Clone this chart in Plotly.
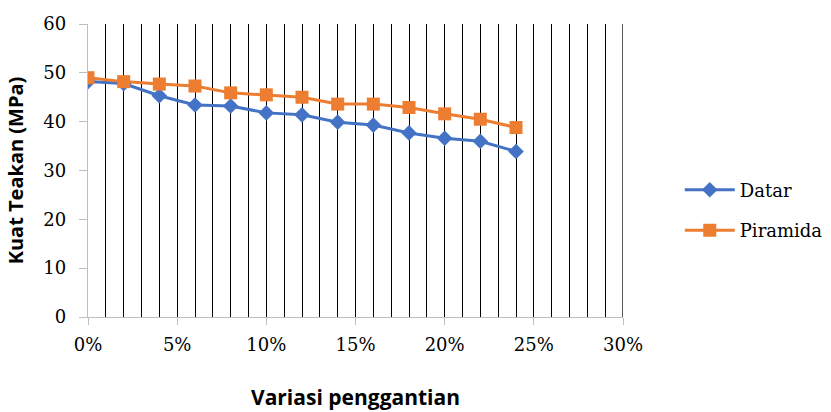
import plotly.graph_objects as go

# Replacement variation (fraction) and compressive strength (MPa)
variasi = [0.00, 0.02, 0.04, 0.06, 0.08, 0.10, 0.12, 0.14, 0.16, 0.18, 0.20, 0.22, 0.24]
datar = [48.2, 47.8, 45.3, 43.4, 43.2, 41.8, 41.4, 39.9, 39.3, 37.7, 36.6, 36.0, 33.9]
piramida = [49.0, 48.2, 47.7, 47.3, 45.9, 45.5, 45.0, 43.6, 43.6, 42.9, 41.6, 40.5, 38.8]

x_ticks = [0.00, 0.05, 0.10, 0.15, 0.20, 0.25, 0.30]
x_tick_labels = ["0%", "5%", "10%", "15%", "20%", "25%", "30%"]
y_ticks = [0, 10, 20, 30, 40, 50, 60]

BLUE = "#4472C4"
ORANGE = "#ED7D31"
SERIF = "DejaVu Serif"
SANS = "Open Sans"

fig = go.Figure()
fig.add_trace(go.Scatter(
    x=variasi, y=datar, name="Datar", mode="lines+markers",
    line=dict(color=BLUE, width=3),
    marker=dict(symbol="diamond", size=12, color=BLUE),
    legendgroup="a",
))
fig.add_trace(go.Scatter(
    x=variasi, y=piramida, name="Piramida", mode="lines+markers",
    line=dict(color=ORANGE, width=3),
    marker=dict(symbol="square", size=13, color=ORANGE),
    legendgroup="b",
))

# closing gridline at the right end of the x range
fig.add_shape(type="line", xref="x", yref="paper",
              x0=x_ticks[-1], x1=x_ticks[-1], y0=0, y1=1,
              line=dict(color="black", width=1.3), layer="below")

fig.update_layout(
    width=831, height=412,
    margin=dict(l=88, r=208, t=24, b=95),
    paper_bgcolor="white", plot_bgcolor="white",
    showlegend=True,
    legend=dict(
        xref="container", yref="container",
        x=0.818, y=0.49, xanchor="left", yanchor="middle",
        font=dict(family=SERIF, size=18, color="black"),
        tracegroupgap=14, itemwidth=50,
        bgcolor="rgba(0,0,0,0)",
    ),
    xaxis=dict(
        range=[0, 0.30], automargin=False,
        tickvals=x_ticks, ticktext=x_tick_labels,
        showgrid=True, gridcolor="black", gridwidth=1.3,
        minor=dict(dtick=0.01, tick0=0, showgrid=True, gridcolor="black", gridwidth=1.3),
        showline=True, linecolor="#BFBFBF", linewidth=1.3,
        ticks="outside", ticklen=7, tickcolor="#BFBFBF",
        ticklabelstandoff=4,
        zeroline=False,
        tickfont=dict(family=SERIF, size=18, color="black"),
        title=dict(text="<b>Variasi penggantian</b>", standoff=36,
                   font=dict(family=SANS, size=21, color="black")),
    ),
    yaxis=dict(
        range=[0, 60], automargin=False,
        tickvals=y_ticks,
        showgrid=False,
        showline=True, linecolor="#BFBFBF", linewidth=1.3,
        ticks="outside", ticklen=8, tickcolor="#BFBFBF",
        ticklabelstandoff=9,
        zeroline=False,
        tickfont=dict(family=SERIF, size=18, color="black"),
        title=dict(text="<b>Kuat Teakan (MPa)</b>", standoff=14,
                   font=dict(family=SANS, size=20, color="black")),
    ),
)

fig.write_html("out.html")
